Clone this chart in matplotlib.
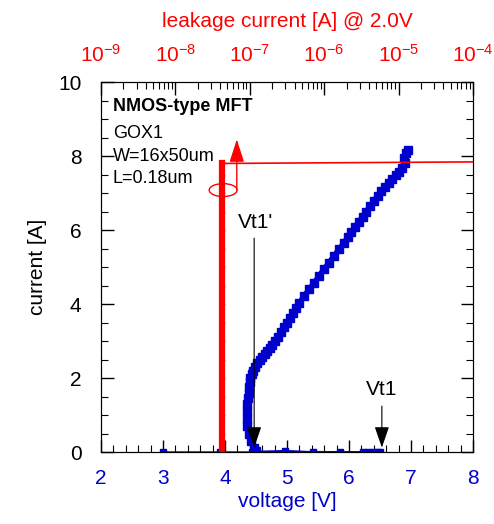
import matplotlib.pyplot as plt
from matplotlib.patches import Ellipse
from matplotlib.ticker import MultipleLocator, LogLocator, NullFormatter, FuncFormatter
import numpy as np

plt.rcParams['font.family'] = ['Liberation Sans', 'DejaVu Sans']
plt.rcParams['mathtext.fontset'] = 'custom'
plt.rcParams['mathtext.rm'] = 'Liberation Sans'
plt.rcParams['mathtext.it'] = 'Liberation Sans'

# TLP I-V curve (blue): off-state branch up to Vt1, then snapback branch
off_v = [3.0, 3.92, 4.44, 4.97, 5.42, 5.85, 6.23, 6.3, 6.38, 6.45, 6.5]
off_i = [0.0, 0.0, 0.0, 0.04, 0.0, 0.0, 0.0, 0.0, 0.0, 0.0, 0.0]

on_v = [4.5, 4.46, 4.42, 4.38, 4.36, 4.35, 4.35, 4.36, 4.37, 4.38, 4.39, 4.4,
        4.41, 4.43, 4.45, 4.48, 4.52, 4.56, 4.6, 4.64, 4.68, 4.72, 4.76,
        4.8, 4.85, 4.9, 4.95, 5.0, 5.05, 5.1, 5.15, 5.2, 5.28, 5.36, 5.44,
        5.52, 5.6, 5.68, 5.76, 5.84, 5.92, 5.98, 6.04, 6.1, 6.16, 6.22,
        6.28, 6.34, 6.4, 6.46, 6.52, 6.58, 6.64, 6.7, 6.75, 6.8, 6.85,
        6.9, 6.88, 6.92, 6.95]
on_i = [0.02, 0.1, 0.3, 0.5, 0.7, 0.9, 1.1, 1.3, 1.45, 1.6, 1.75, 1.9,
        2.0, 2.1, 2.2, 2.3, 2.4, 2.5, 2.58, 2.66, 2.74, 2.82, 2.9,
        3.0, 3.12, 3.25, 3.38, 3.5, 3.63, 3.76, 3.9, 4.03, 4.22, 4.4, 4.58,
        4.76, 4.95, 5.12, 5.3, 5.48, 5.65, 5.8, 5.95, 6.08, 6.22, 6.36,
        6.5, 6.64, 6.78, 6.92, 7.05, 7.17, 7.28, 7.38, 7.48, 7.58, 7.68,
        7.8, 7.95, 8.08, 8.15]

# leakage after each pulse (red)
leak_i = [0.0, 0.5, 1.0, 1.5, 2.0, 2.5, 3.0, 3.5, 4.0, 4.5, 5.0, 5.5,
          6.0, 6.5, 7.0, 7.5, 7.8, 7.86]
leak_a = [4.25e-8, 4.25e-8, 4.25e-8, 4.25e-8, 4.25e-8, 4.25e-8, 4.25e-8,
          4.25e-8, 4.25e-8, 4.25e-8, 4.25e-8, 4.25e-8, 4.25e-8, 4.25e-8,
          4.25e-8, 4.25e-8, 4.25e-8, 3e-3]

fig = plt.figure(figsize=(4.94, 5.24), dpi=100)
ax = fig.add_axes([0.2045, 0.1374, 0.753, 0.706])

blue = '#0000cc'
ax.plot(off_v, off_i, color=blue, lw=1, marker='s', ms=5, ls='-')
ax.plot([off_v[-1], on_v[0]], [off_i[-1], on_i[0]], color=blue, lw=1)
ax.plot(on_v, on_i, color=blue, lw=4, marker='s', ms=5.5)

ax.set_xlim(2, 8)
ax.set_ylim(0, 10)
ax.xaxis.set_major_locator(MultipleLocator(1))
ax.xaxis.set_minor_locator(MultipleLocator(0.2))
ax.yaxis.set_major_locator(MultipleLocator(2))
ax.yaxis.set_minor_locator(MultipleLocator(0.5))
ax.tick_params(which='both', direction='in', right=True, labelsize=15)
ax.tick_params(which='major', length=9, width=1)
ax.tick_params(which='minor', length=5, width=0.8)
ax.tick_params(axis='y', pad=14)
ax.tick_params(axis='x', labelcolor=blue, pad=12)
ax.set_xlabel('voltage [V]', color=blue, fontsize=15, labelpad=3)
ax.set_ylabel('current [A]', fontsize=15, labelpad=8)

ax2 = ax.twiny()
ax2.plot(leak_a, leak_i, color='red', lw=1.2)
ax2.plot(leak_a[:-1], leak_i[:-1], color='red', lw=4.5, marker='o', ms=3)
ax2.set_xscale('log')
ax2.set_xlim(1e-9, 1e-4)
ax2.xaxis.set_major_locator(LogLocator(base=10, numticks=10))
ax2.xaxis.set_major_formatter(
    FuncFormatter(lambda x, p: '$\\mathregular{10^{%d}}$' % round(np.log10(x))))
ax2.xaxis.set_minor_locator(LogLocator(base=10, subs=range(2, 10), numticks=10))
ax2.xaxis.set_minor_formatter(NullFormatter())
ax2.tick_params(which='both', direction='in', labelsize=15, labelcolor='red', pad=12)
ax2.tick_params(which='major', length=9, width=1)
ax2.tick_params(which='minor', length=5, width=0.8)
ax2.set_xlabel('leakage current [A] @ 2.0V', color='red', fontsize=15, labelpad=12)

# red marker: ellipse + arrow to top axis
ax.add_patch(Ellipse((3.97, 7.08), 0.45, 0.35, fill=False, ec='red', lw=1))
ax.annotate('', xy=(4.19, 8.45), xytext=(4.19, 7.08),
            arrowprops=dict(arrowstyle='-|>,head_width=0.45,head_length=1.4',
                            color='red', lw=1, shrinkA=0, shrinkB=0))

ax.text(4.5, 6.2, "Vt1'", fontsize=15, ha='center', va='center')
ax.annotate('', xy=(4.47, 0.12), xytext=(4.47, 5.78),
            arrowprops=dict(arrowstyle='-|>,head_width=0.45,head_length=1.3',
                            color='black', lw=0.8, shrinkA=0, shrinkB=0))
ax.text(6.53, 1.68, 'Vt1', fontsize=15, ha='center', va='center')
ax.annotate('', xy=(6.53, 0.12), xytext=(6.53, 1.24),
            arrowprops=dict(arrowstyle='-|>,head_width=0.45,head_length=1.3',
                            color='black', lw=0.8, shrinkA=0, shrinkB=0))

ax.text(2.19, 9.35, 'NMOS-type MFT', fontsize=13, fontweight='bold', va='center')
ax.text(2.19, 8.62, 'GOX1', fontsize=13, va='center')
ax.text(2.19, 8.0, 'W=16x50um', fontsize=13, va='center')
ax.text(2.19, 7.38, 'L=0.18um', fontsize=13, va='center')

fig.savefig('out.png', dpi=100)
